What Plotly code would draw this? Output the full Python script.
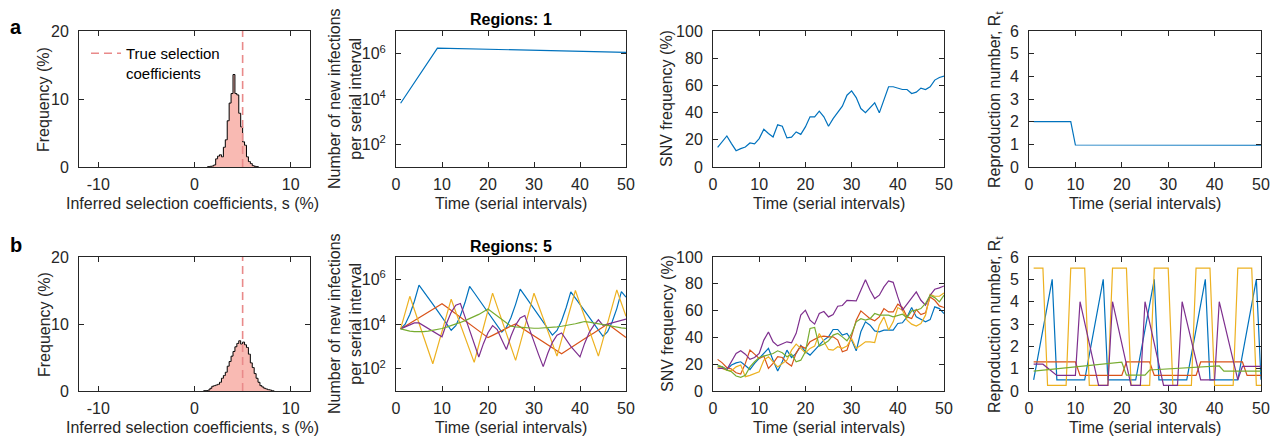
import plotly.graph_objects as go
from plotly.subplots import make_subplots

# ---------------- data ----------------
# histograms of inferred selection coefficients (percent per 0.2-wide bin)
hist_a_centers = [1.5, 1.7, 1.9, 2.1, 2.3, 2.5, 2.7, 2.9, 3.1, 3.3, 3.5, 3.7, 3.9, 4.1, 4.3,
                  4.5, 4.7, 4.9, 5.1, 5.3, 5.5, 5.7, 5.9, 6.1, 6.3, 6.5]
hist_a_freq = [0.05, 0.1, 0.15, 0.3, 1.2, 1.6, 1.8, 1.5, 2.9, 4.0, 6.8, 9.4, 10.8, 13.6, 10.8,
               10.6, 7.9, 5.9, 3.7, 3.2, 1.5, 0.8, 0.5, 0.2, 0.1, 0.05]
hist_b_centers = [1.1, 1.3, 1.5, 1.7, 1.9, 2.1, 2.3, 2.5, 2.7, 2.9, 3.1, 3.3, 3.5, 3.7, 3.9,
                  4.1, 4.3, 4.5, 4.7, 4.9, 5.1, 5.3, 5.5, 5.7, 5.9, 6.1, 6.3, 6.5, 6.7, 6.9,
                  7.1, 7.3, 7.5, 7.7, 7.9, 8.1]
hist_b_freq = [0.05, 0.05, 0.15, 0.4, 0.7, 0.8, 0.9, 1.0, 1.3, 1.9, 2.3, 2.8, 3.7, 4.4, 5.2,
               5.9, 6.6, 7.1, 7.5, 7.0, 7.3, 6.9, 6.5, 5.5, 4.2, 3.5, 2.6, 1.9, 1.3, 0.8,
               0.6, 0.4, 0.3, 0.2, 0.15, 0.05]
hist_bin_width = 0.2
true_s = 5

# row a: one region
time_inf_a = [1, 9, 50]
inf_a = [6500, 1.75e6, 1.15e6]

time = list(range(1, 51))
snv_a = [14.5, 18.4, 22.8, 17.2, 12, 13.5, 14.7, 17.7, 17, 20.9, 27.8, 24.6, 22, 31, 30,
         21.4, 22, 25.8, 24, 29.5, 36.9, 36.9, 41, 36.9, 30, 35.6, 39.8, 44.7, 52.8, 56,
         51, 43, 40, 43.7, 47.2, 39.8, 49, 59, 59, 58.2, 57, 57, 54, 55, 58,
         57, 59, 63.9, 65.8, 66.8]

time_rt_a = [1, 9, 10, 50]
rt_a = [2, 2, 0.97, 0.96]

# row b: five regions -- log10 of new infections per serial interval
inf_b_blue_log10 = [3.78, 3.99, 4.43, 5.02, 5.74, 5.47, 5.18, 4.89, 4.60, 4.31, 4.01, 3.72, 3.93, 4.37,
                    4.96, 5.68, 5.40, 5.11, 4.81, 4.52, 4.23, 3.93, 3.64, 3.85, 4.29, 4.88, 5.56,
                    5.27, 4.97, 4.68, 4.38, 4.09, 3.79, 3.50, 3.71, 4.15, 4.74, 5.44, 5.16, 4.87,
                    4.59, 4.31, 4.02, 3.74, 3.45, 3.66, 4.10, 4.69, 5.45, 5.20]
inf_b_orange_log10 = [3.78, 3.91, 4.03, 4.16, 4.28, 4.41, 4.53, 4.66, 4.78, 4.91, 4.76, 4.61, 4.45,
                      4.30, 4.15, 4.00, 3.85, 3.69, 3.54, 3.39, 3.49, 3.60, 3.71, 3.81, 3.91, 4.00,
                      3.87, 3.73, 3.60, 3.47, 3.34, 3.20, 3.07, 2.94, 2.80, 2.67, 2.80, 2.94, 3.07,
                      3.20, 3.34, 3.47, 3.60, 3.73, 3.87, 4.00, 3.85, 3.70, 3.55, 3.40]
inf_b_yellow_log10 = [3.78, 4.52, 5.24, 4.64, 4.04, 3.43, 2.83, 2.22, 2.94, 3.67, 4.39, 5.11, 4.54,
                      3.98, 3.41, 2.85, 2.28, 3.06, 3.83, 4.61, 5.38, 4.78, 4.18, 3.58, 2.97, 2.37,
                      3.12, 3.88, 4.63, 5.38, 4.82, 4.25, 3.69, 3.12, 2.56, 3.30, 4.03, 4.77, 5.50,
                      4.91, 4.33, 3.74, 3.15, 2.56, 3.30, 4.05, 4.79, 5.53, 4.93, 4.34]
inf_b_purple_log10 = [3.78, 3.86, 3.94, 4.05, 4.05, 3.92, 3.80, 3.67, 3.55, 3.43, 4.03, 4.52, 4.84,
                      4.92, 4.32, 3.72, 3.12, 2.52, 3.12, 3.61, 3.93, 3.75, 3.30, 2.86, 3.46, 3.95,
                      4.27, 4.38, 3.78, 3.18, 2.63, 2.09, 2.69, 3.18, 3.50, 3.60, 3.30, 3.00, 2.76,
                      2.53, 3.13, 3.62, 3.94, 4.19, 3.94, 3.99, 4.04, 4.10, 4.16, 4.22]
inf_b_green_log10 = [3.78, 3.72, 3.68, 3.66, 3.65, 3.66, 3.68, 3.71, 3.75, 3.80, 3.86, 3.92, 3.99,
                     4.07, 4.15, 4.24, 4.33, 4.43, 4.55, 4.67, 4.52, 4.36, 4.21, 4.05, 3.90, 3.87,
                     3.85, 3.83, 3.82, 3.81, 3.81, 3.82, 3.83, 3.85, 3.87, 3.90, 3.93, 3.97, 4.01,
                     4.06, 4.11, 4.08, 4.04, 4.01, 3.97, 3.94, 3.90, 3.87, 3.83, 3.80]

# row b: SNV frequency (%)
snv_b_blue = [18.6, 18, 16, 19.4, 21, 21.8, 19, 16, 20.6, 24.3, 28, 31.8, 23, 15, 21.8, 30.5, 25,
              28, 34, 29.3, 26.8, 30.5, 34.2, 38, 40.4, 45.9, 45.9, 41.7, 42.9, 38, 30, 44.2,
              51.6, 49.1, 44.9, 44.2, 45.4, 45.4, 45.4, 50.4, 50.9, 55.3, 62.3, 55.3, 53.3, 51.6,
              53.3, 62.8, 61.5, 57.8]
snv_b_orange = [23.6, 21, 17.4, 16.4, 13.6, 12.7, 20.6, 30.5, 27.5, 24.3, 26, 16.9, 20.6, 25.6,
                25, 21, 18.6, 28.5, 33.5, 31.8, 36.7, 38.5, 40.4, 41, 40.4, 40.4, 38, 29.3, 30.5,
                41, 52.9, 59.8, 56.6, 54, 52.4, 55.3, 61.5, 59, 59, 64.8, 62.3, 55.3, 54.1, 60.8,
                57, 58.3, 70.2, 67.7, 63.5, 62.3]
snv_b_yellow = [18, 16.9, 15.6, 15.1, 18, 19.4, 10.7, 11.7, 13.2, 14.4, 23, 25.6, 21.8, 18, 20.6,
                23, 30.5, 35, 31.8, 28.5, 31.8, 33.5, 42.9, 36.7, 31, 30.5, 33, 31.8, 33.5, 39.2,
                31.8, 34.2, 36.7, 36.7, 36.2, 49.1, 55.3, 45.4, 51.6, 62.3, 60.3, 52.9, 49.9,
                48.4, 50.4, 56.6, 72.2, 70.7, 70.7, 73.2]
snv_b_purple = [16.6, 17, 16, 21.8, 28, 30, 27.5, 23.6, 25, 28, 38, 44, 36.7, 33.7, 35.5, 36.7,
                36, 43, 56.6, 60.3, 52.9, 49.9, 57.8, 59.3, 55.3, 57, 63.3, 63.8, 67.7, 67.7,
                67.2, 75.2, 83.1, 75.2, 69, 71.5, 77.7, 82.1, 81.1, 70.2, 60.3, 64.8, 69, 74,
                67.7, 64, 71.5, 75.9, 77, 78.4]
snv_b_green = [19.4, 18, 15.6, 14.4, 11.2, 10.2, 11.7, 18, 21.8, 25, 26, 26.8, 28, 30, 28.5,
               25.6, 27.5, 21.8, 23, 29.3, 46.7, 47.4, 33.5, 35, 37.5, 41.7, 42.9, 40.4, 37.5,
               42.9, 51.6, 54, 52.9, 54, 57.8, 56.6, 56.6, 56.6, 55.3, 56.6, 57.3, 54.8, 59.8,
               60.3, 61.5, 65.3, 71.5, 69.7, 66.5, 71.5]

# row b: reproduction numbers (breakpoints)
rt_b_blue_t = [1, 5, 6, 12, 16, 17, 23, 27, 28, 34, 38, 39, 45, 49, 50]
rt_b_blue = [0.5, 5, 0.5, 0.5, 5, 0.5, 0.5, 5, 0.5, 0.5, 5, 0.5, 0.5, 5, 0.5]
rt_b_orange_t = [1, 10, 11, 20, 21, 26, 27, 36, 37, 46, 47, 50]
rt_b_orange = [1.3, 1.3, 0.7, 0.7, 1.3, 1.3, 0.7, 0.7, 1.3, 1.3, 0.7, 0.7]
rt_b_yellow_t = [1, 3, 4, 8, 9, 12, 13, 17, 18, 21, 22, 26, 27, 30, 31, 35, 36, 39, 40, 44,
                 45, 48, 49, 50]
rt_b_yellow = [5.5, 5.5, 0.25, 0.25, 5.5, 5.5, 0.25, 0.25, 5.5, 5.5, 0.25, 0.25, 5.5, 5.5,
               0.25, 0.25, 5.5, 5.5, 0.25, 0.25, 5.5, 5.5, 0.25, 0.25]
rt_b_purple_t = [1, 3, 6, 10, 11, 15, 17, 18, 22, 24, 25, 29, 32, 33, 37, 40, 41, 45, 46, 50]
rt_b_purple = [1.2, 1.2, 0.7, 0.7, 4, 0.25, 0.25, 4, 0.25, 0.25, 4, 0.25, 0.25, 4, 0.5, 0.5,
               4, 0.5, 1.1, 1.1]
rt_b_green_t = [1, 20, 21, 25, 26, 41, 42, 50]
rt_b_green = [0.89, 1.29, 0.71, 0.71, 0.94, 1.12, 0.89, 0.89]

# ---------------- styling ----------------
W, H = 1273, 440
FONT = "Liberation Sans, Arial, Helvetica, sans-serif"
FS = 16
AX = "#262626"
C_BLUE, C_ORANGE, C_YELLOW, C_PURPLE, C_GREEN = "#0072BD", "#D95319", "#EDB120", "#7E2F8E", "#77AC30"
HIST_FILL = "#F9BAB3"
TRUE_COLOR = "#E98A8A"
LW = 1.2

col_px = [(79, 310), (396, 626), (713, 944), (1029, 1261)]
row_px = [(31, 167), (257, 391)]

fig = make_subplots(rows=2, cols=4)


def stairs(centers, freq, w):
    xs = [centers[0] - w] + list(centers) + [centers[-1] + w]
    ys = [0] + list(freq) + [0]
    return xs, ys


for r, (cen, fr) in enumerate([(hist_a_centers, hist_a_freq), (hist_b_centers, hist_b_freq)], start=1):
    xs, ys = stairs(cen, fr, hist_bin_width)
    fig.add_trace(go.Scatter(x=xs, y=ys, mode="lines", line=dict(shape="hvh", color="black", width=1),
                             fill="tozeroy", fillcolor=HIST_FILL, showlegend=False, hoverinfo="skip"),
                  row=r, col=1)
    fig.add_trace(go.Scatter(x=[true_s, true_s], y=[0, 20], mode="lines",
                             line=dict(color=TRUE_COLOR, width=1.6, dash="8px,5px"),
                             name="True selection<br>coefficients", showlegend=(r == 1)),
                  row=r, col=1)

# row a
fig.add_trace(go.Scatter(x=time_inf_a, y=inf_a, mode="lines", line=dict(color=C_BLUE, width=LW),
                         showlegend=False), row=1, col=2)
fig.add_trace(go.Scatter(x=time, y=snv_a, mode="lines", line=dict(color=C_BLUE, width=LW),
                         showlegend=False), row=1, col=3)
fig.add_trace(go.Scatter(x=time_rt_a, y=rt_a, mode="lines", line=dict(color=C_BLUE, width=LW),
                         showlegend=False), row=1, col=4)

# row b
inf_series = [(inf_b_blue_log10, C_BLUE), (inf_b_orange_log10, C_ORANGE), (inf_b_yellow_log10, C_YELLOW),
              (inf_b_purple_log10, C_PURPLE), (inf_b_green_log10, C_GREEN)]
for vals, c in inf_series:
    fig.add_trace(go.Scatter(x=time, y=[10 ** v for v in vals], mode="lines",
                             line=dict(color=c, width=LW), showlegend=False), row=2, col=2)
snv_series = [(snv_b_blue, C_BLUE), (snv_b_orange, C_ORANGE), (snv_b_yellow, C_YELLOW),
              (snv_b_purple, C_PURPLE), (snv_b_green, C_GREEN)]
for vals, c in snv_series:
    fig.add_trace(go.Scatter(x=time, y=vals, mode="lines", line=dict(color=c, width=LW),
                             showlegend=False), row=2, col=3)
rt_series = [(rt_b_blue_t, rt_b_blue, C_BLUE), (rt_b_orange_t, rt_b_orange, C_ORANGE),
             (rt_b_yellow_t, rt_b_yellow, C_YELLOW), (rt_b_purple_t, rt_b_purple, C_PURPLE),
             (rt_b_green_t, rt_b_green, C_GREEN)]
for tt, vals, c in rt_series:
    fig.add_trace(go.Scatter(x=tt, y=vals, mode="lines", line=dict(color=c, width=LW),
                             showlegend=False), row=2, col=4)

common = dict(showgrid=False, zeroline=False, showline=True, linecolor=AX, linewidth=1,
              mirror="ticks", ticks="inside", ticklen=5, tickwidth=1, tickcolor=AX, automargin=False,
              tickfont=dict(family=FONT, size=FS, color=AX))

for r in range(2):
    y0, y1 = row_px[r]
    for c in range(4):
        n = r * 4 + c + 1
        xa = "xaxis" if n == 1 else f"xaxis{n}"
        ya = "yaxis" if n == 1 else f"yaxis{n}"
        x0, x1 = col_px[c]
        xd = dict(common, domain=[x0 / W, x1 / W], ticklabelstandoff=3)
        yd = dict(common, domain=[1 - y1 / H, 1 - y0 / H], ticklabelstandoff=6)
        if c == 0:
            xd.update(range=[-12, 12], tickvals=[-10, 0, 10], ticktext=["-10", "0", "10"])
            yd.update(range=[0, 20], tickvals=[0, 10, 20])
        elif c == 1:
            xd.update(range=[0, 50], tickvals=[0, 10, 20, 30, 40, 50])
            yd.update(type="log", range=[1, 7], tickvals=[1e2, 1e4, 1e6],
                      ticktext=["10<sup>2</sup>", "10<sup>4</sup>", "10<sup>6</sup>"])
        elif c == 2:
            xd.update(range=[0, 50], tickvals=[0, 10, 20, 30, 40, 50])
            yd.update(range=[0, 100], tickvals=[0, 20, 40, 60, 80, 100])
        else:
            xd.update(range=[0, 50], tickvals=[0, 10, 20, 30, 40, 50])
            yd.update(range=[0, 6], tickvals=[0, 1, 2, 3, 4, 5, 6])
        fig.layout[xa].update(xd)
        fig.layout[ya].update(yd)

ann = []


def A(text, px, py, size=FS, angle=0, bold=False):
    if bold:
        text = f"<b>{text}</b>"
    ann.append(dict(text=text, x=px / W, y=1 - py / H, xref="paper", yref="paper",
                    xanchor="center", yanchor="middle", showarrow=False, textangle=angle,
                    font=dict(family=FONT, size=size, color=AX if not bold else "black")))


for r in range(2):
    y0, y1 = row_px[r]
    ym = (y0 + y1) / 2
    A("Frequency (%)", 44, ym, angle=-90)
    A("Number of new infections<br>per serial interval", 345, ym, angle=-90)
    A("SNV frequency (%)", 667, ym, angle=-90)
    A("Reproduction number, R<sub>t</sub>", 995, ym + 1, angle=-90)
    A("Inferred selection coefficients, s (%)", (col_px[0][0] + col_px[0][1]) / 2 - 2, y1 + 36)
    for c in range(1, 4):
        A("Time (serial intervals)", (col_px[c][0] + col_px[c][1]) / 2, y1 + 36)

A("a", 16, 27, size=20, bold=True)
A("b", 16, 245, size=20, bold=True)
A("Regions: 1", (col_px[1][0] + col_px[1][1]) / 2, 20, bold=True)
A("Regions: 5", (col_px[1][0] + col_px[1][1]) / 2, 246, bold=True)

fig.update_layout(
    width=W, height=H, margin=dict(l=0, r=0, t=0, b=0, pad=0, autoexpand=False),
    paper_bgcolor="white", plot_bgcolor="white",
    font=dict(family=FONT, size=FS, color=AX),
    annotations=ann,
    showlegend=True,
    legend=dict(x=86 / W, y=1 - 37 / H, xanchor="left", yanchor="top", bgcolor="rgba(0,0,0,0)",
                font=dict(family=FONT, size=15, color="black"), valign="top", borderwidth=0),
)

fig.write_html("out.html", config={"displayModeBar": False},
               post_script="document.body.style.margin='0';")
